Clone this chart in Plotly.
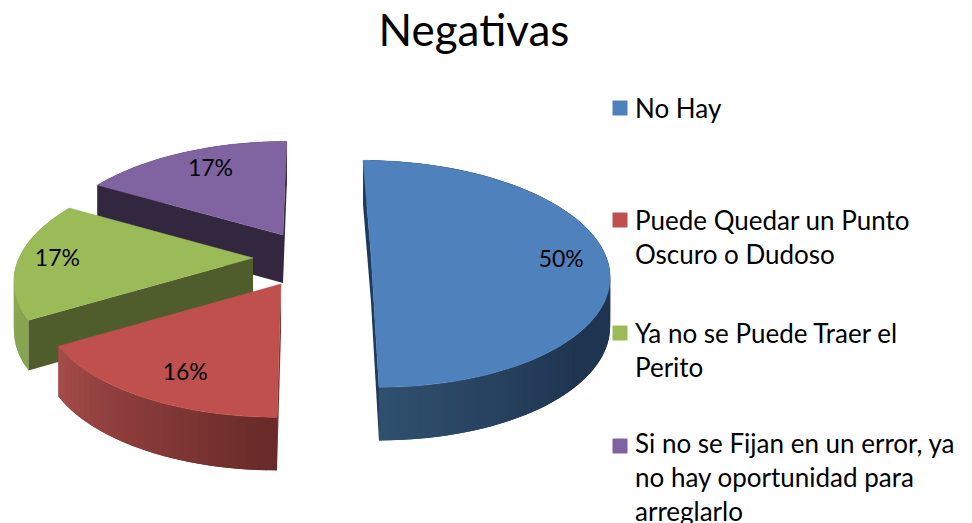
import math
import plotly.graph_objects as go

categories = ["No Hay", "Puede Quedar un Punto<br>Oscuro o Dudoso", "Ya no se Puede Traer el<br>Perito",
              "Si no se Fijan en un error, ya<br>no hay oportunidad para<br>arreglarlo"]
values = [50, 16.4, 16.8, 16.8]
top_colors = ["#4f81bd", "#c0504d", "#9bbb59", "#8064a2"]
edge_colors = ["#1f3a5a", "#7a3432", "#4f5c2b", "#33273f"]
wall_stops = [[(0, "#1f3450"), (0.72, "#1f3450"), (1, "#30506f")],
              [(0, "#682a29"), (1, "#a64d4a")],
              [(0, "#88a450"), (1, "#93ad5a")],
              [(0, "#5e4a78"), (1, "#5e4a78")]]
centers = [(371, 254), (281, 284), (253, 258), (283, 235)]
label_nudge = [(3, 7), (12, 3), (-8, 1), (9, 3)]
legend_y = [108, 220, 333, 446]
legend_text_lift = [0, 0, 0, 3]

START = 0.0
RX, RY, K, DEPTH = 234.0, 110.0, 0.175, 48.0
VANISH_X, SHEAR = 311.0, 0.133
W, H = 972, 523


def project(c, theta, r=1.0):
    t = math.radians(theta)
    u, v = r * math.sin(t), r * math.cos(t)
    s = 1 / (1 + K * v)
    return c[0] + RX * u * s - (c[0] - VANISH_X) * SHEAR * v, c[1] - RY * v * s, s


def lower(p):
    return p[0], p[1] + DEPTH * (1 + 0.5 * (p[2] - 1))


def hex_rgb(h):
    return [int(h[i:i + 2], 16) for i in (1, 3, 5)]


def grad(stops, f):
    for (a, ca), (b, cb) in zip(stops, stops[1:]):
        if f <= b:
            w = (f - a) / (b - a)
            return "rgb(%d,%d,%d)" % tuple(x + (y - x) * w for x, y in zip(hex_rgb(ca), hex_rgb(cb)))
    return stops[-1][1]


def poly(pts, color, width=0.0):
    xs = [p[0] for p in pts] + [pts[0][0]]
    ys = [p[1] for p in pts] + [pts[0][1]]
    return go.Scatter(x=xs, y=ys, mode="lines", fill="toself", fillcolor=color,
                      line=dict(color=color, width=width), hoverinfo="skip", showlegend=False)


fig = go.Figure()
total = sum(values)
angles = [START]
for val in values:
    angles.append(angles[-1] + 360 * val / total)

labels_x, labels_y, labels_t = [], [], []
for i in [3, 2, 1, 0]:
    c, a0, a1 = centers[i], angles[i], angles[i + 1]
    apex = (c[0], c[1], 1.0)
    # outer wall in overlapping strips (painted in order, so no seams)
    n = max(12, int((a1 - a0) / 2))
    step = (a1 - a0) / n
    for j in range(n):
        t0, t1 = a0 + step * j, min(a1, a0 + step * (j + 2))
        seg = [project(c, t0 + (t1 - t0) * q / 4) for q in range(5)]
        fig.add_trace(poly(seg + [lower(p) for p in reversed(seg)], grad(wall_stops[i], (j + 0.5) / n)))
    # radial walls that face the viewer
    if math.sin(math.radians(a0)) < 1e-6:
        p = project(c, a0)
        fig.add_trace(poly([apex, p, lower(p), lower(apex)], edge_colors[i]))
    if math.sin(math.radians(a1)) > -1e-6:
        p = project(c, a1)
        fig.add_trace(poly([apex, p, lower(p), lower(apex)], edge_colors[i]))
    # top face
    arc = [project(c, a0 + (a1 - a0) * j / 120) for j in range(121)]
    fig.add_trace(poly([apex] + arc, top_colors[i], 0.5))
    lx, ly, _ = project(c, (a0 + a1) / 2, 0.8)
    labels_x.append(lx + label_nudge[i][0])
    labels_y.append(ly + label_nudge[i][1])
    labels_t.append(f"{values[i]:.0f}%")

fig.add_trace(go.Scatter(x=labels_x, y=labels_y, text=labels_t, mode="text", hoverinfo="skip", showlegend=False,
                         textfont=dict(family="Lato", size=23, color="#000000")))

fig.add_trace(go.Scatter(x=[620] * 4, y=legend_y, mode="markers", hoverinfo="skip", showlegend=False,
                         marker=dict(symbol="square", size=15, color=top_colors, line=dict(width=0))))
annotations = [dict(x=633, y=yy - 18 - lift, xref="x", yref="y", text=name, showarrow=False, align="left",
                    xanchor="left", yanchor="top", font=dict(family="Lato", size=26, color="#000000"))
               for name, yy, lift in zip(categories, legend_y, legend_text_lift)]

fig.update_layout(
    width=W, height=H, margin=dict(l=0, r=0, t=0, b=0),
    paper_bgcolor="white", plot_bgcolor="white",
    title=dict(text="Negativas", x=474 / W, xanchor="center", y=1 - 31 / H, yanchor="middle",
               font=dict(family="Lato", size=44, color="#000000")),
    xaxis=dict(range=[0, W], visible=False, fixedrange=True),
    yaxis=dict(range=[H, 0], visible=False, fixedrange=True),
    annotations=annotations,
    showlegend=False,
)
fig.write_html("out.html", config={"displayModeBar": False},
               post_script="document.body.style.margin='0';document.body.style.overflow='hidden';")
